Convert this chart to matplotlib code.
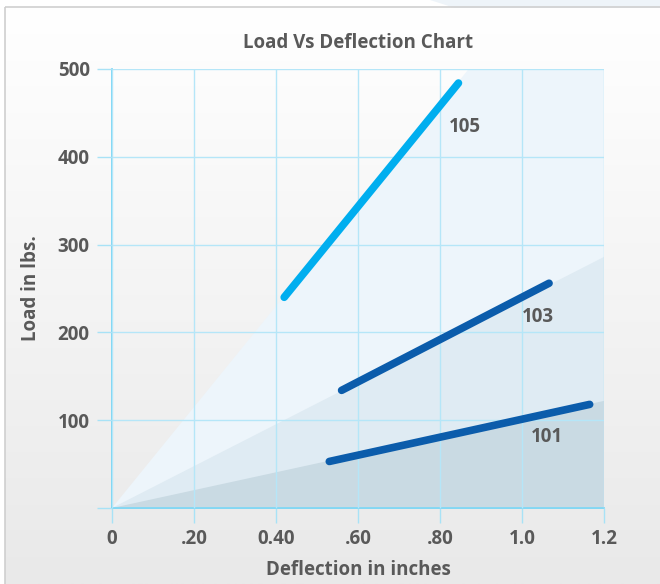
import numpy as np
import matplotlib
matplotlib.use('Agg')
import matplotlib.pyplot as plt
from matplotlib.patches import Rectangle, Polygon

# data
series_names = ['105', '103', '101']
series_x = [[0.42, 0.845], [0.56, 1.066], [0.53, 1.165]]
series_y = [[240, 484], [134, 256], [53, 118]]
series_colors = ['#00aeef', '#0b5cab', '#0b5cab']
label_x = [0.86, 1.04, 1.06]
label_y = [434, 217, 81]

# shaded wedges from the origin (end point of upper edge)
wedge_x = [0.87, 1.2, 1.2]
wedge_y = [500, 286, 122]
wedge_colors = ['#edf5fb', '#dfebf3', '#c9dae3']

xticks = [0, 0.2, 0.4, 0.6, 0.8, 1.0, 1.2]
xticklabels = ['0', '.20', '0.40', '.60', '.80', '1.0', '1.2']
yticks = [0, 100, 200, 300, 400, 500]
yticklabels = ['', '100', '200', '300', '400', '500']

txt = '#595959'
font = 'Open Sans'
fs = 13.5

fig = plt.figure(figsize=(6.6, 5.84), dpi=100)

# background panel with a soft vertical gradient
bg = fig.add_axes([0, 0, 1, 1])
bg.set_xlim(0, 660)
bg.set_ylim(584, 0)
bg.axis('off')
bg.add_patch(Polygon([[430, 0], [660, 0], [660, 8], [455, 8]], closed=True,
                     facecolor='#eef4f9', edgecolor='none'))
grad = np.linspace(0, 1, 256).reshape(-1, 1)
cmap = matplotlib.colors.LinearSegmentedColormap.from_list('g', ['#ffffff', '#e9e9e9'])
bg.imshow(grad, cmap=cmap, extent=[5, 660, 584, 7], aspect='auto', zorder=0)
bg.add_patch(Rectangle((5, 7), 700, 600, facecolor='none', edgecolor='#cfcfcf', lw=1.2, zorder=1))

ax = fig.add_axes([112/660, 1 - 508/584, 492/660, 439/584])
ax.set_facecolor('none')
ax.set_xlim(0, 1.2)
ax.set_ylim(0, 500)

for wx, wy, wc in zip(wedge_x, wedge_y, wedge_colors):
    ax.add_patch(Polygon([[0, 0], [wx, wy], [1.2, wy], [1.2, 0]], closed=True,
                         facecolor=wc, edgecolor='none', zorder=1))

ax.grid(True, color='#b5e6f8', lw=1.0, zorder=2)
ax.set_axisbelow(False)
for s in ['top', 'right']:
    ax.spines[s].set_visible(False)
ax.spines['left'].set_color('#6fd3f5')
ax.spines['bottom'].set_color('#6fd3f5')
ax.spines['left'].set_linewidth(1.2)
ax.spines['bottom'].set_linewidth(1.2)

for xs, ys, c in zip(series_x, series_y, series_colors):
    ax.plot(xs, ys, color=c, lw=5.5, solid_capstyle='round', zorder=4)
for n, lx, ly in zip(series_names, label_x, label_y):
    ax.text(lx, ly, n, color=txt, fontsize=fs, fontweight='bold', family=font,
            ha='center', va='center', zorder=5)

ax.set_xticks(xticks)
ax.set_xticklabels(xticklabels)
ax.set_yticks(yticks)
ax.set_yticklabels(yticklabels)
ax.tick_params(axis='both', length=11, color='#a8e2f6', width=1.0,
               labelcolor=txt, labelsize=fs)
ax.tick_params(axis='x', pad=4)
ax.tick_params(axis='y', pad=5)
for lab in ax.get_xticklabels() + ax.get_yticklabels():
    lab.set_fontweight('bold')
    lab.set_family(font)

ax.set_title('Load Vs Deflection Chart', color=txt, fontsize=fs, fontweight='bold',
             family=font, pad=15)
ax.set_xlabel('Deflection in inches', color=txt, fontsize=fs, fontweight='bold',
              family=font, labelpad=8)
ax.set_ylabel('Load in lbs.', color=txt, fontsize=fs, fontweight='bold',
              family=font, labelpad=12)

fig.savefig('out.png', dpi=100)
